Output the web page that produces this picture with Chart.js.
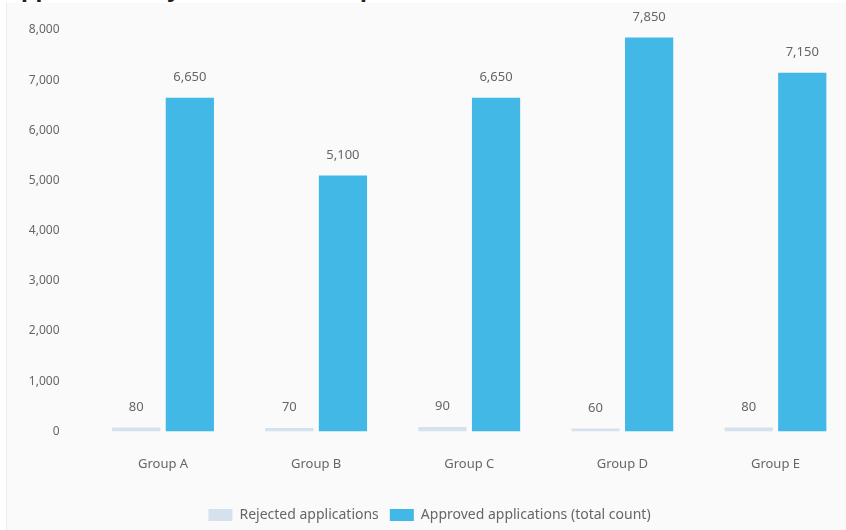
<!DOCTYPE html>
<html>
<head>
<meta charset="utf-8">
<script src="https://cdn.jsdelivr.net/npm/chart.js@4"></script>
<style>
  body { margin: 0; background: #fff; overflow: hidden; width: 846px; height: 530px; position: relative; font-family: "Noto Sans", sans-serif; }
  h2 { position: absolute; left: 5px; top: -28px; margin: 0; font-size: 23px; line-height: 30px; font-weight: bold; color: #222; white-space: nowrap; z-index: 1; }
  #panel { position: absolute; left: 6px; top: 3px; width: 860px; height: 529px; background: #fafafa; border-left: 1px solid #ececec; }
</style>
</head>
<body>
<h2>Applications by Customer Group</h2>
<div id="panel"><canvas id="myChart" width="860" height="529"></canvas></div>
<script>
// DATA
const groups = ["Group A", "Group B", "Group C", "Group D", "Group E"];
const rejected = [80, 70, 90, 60, 80];
const approved = [6650, 5100, 6650, 7850, 7150];
const yTicks = [0, 1000, 2000, 3000, 4000, 5000, 6000, 7000, 8000];
const seriesNames = ["Rejected applications", "Approved applications (total count)"];
const barColors = ["#d6e1ee", "#41b8e6"];

const fmt = v => v.toLocaleString("en-US");

// labels above every bar
const valueLabels = {
  id: "valueLabels",
  afterDatasetsDraw(chart) {
    const ctx = chart.ctx;
    ctx.save();
    ctx.font = '13px "Noto Sans"';
    ctx.fillStyle = "#666";
    ctx.textAlign = "center";
    ctx.textBaseline = "bottom";
    chart.data.datasets.forEach((ds, i) => {
      chart.getDatasetMeta(i).data.forEach((bar, j) => {
        ctx.fillText(fmt(ds.data[j]), bar.x, bar.y - 14);
      });
    });
    ctx.restore();
  }
};

new Chart("myChart", {
  type: "bar",
  data: {
    labels: groups,
    datasets: [
      { label: seriesNames[0], data: rejected, backgroundColor: barColors[0] },
      { label: seriesNames[1], data: approved, backgroundColor: barColors[1] }
    ]
  },
  options: {
    responsive: false,
    animation: false,
    layout: { padding: { top: 27, right: 15, bottom: 0, left: 0 } },
    datasets: { bar: { categoryPercentage: 0.7, barPercentage: 0.9 } },
    scales: {
      x: {
        grid: { display: false, drawTicks: false },
        border: { display: false },
        ticks: { color: "#666", font: { size: 13, family: "Noto Sans" }, padding: 25 }
      },
      y: {
        min: 0,
        max: 8000,
        afterBuildTicks: s => { s.ticks = yTicks.map(v => ({ value: v })); },
        // fixed axis width, and keep the tick padding from pushing the plot down
        afterFit: s => { s.width = 79.5; s.paddingTop = 7; s.paddingBottom = 7; },
        grid: { display: false, drawTicks: false },
        border: { display: false },
        ticks: { color: "#666", font: { size: 12, family: "Noto Sans" }, padding: 27, callback: v => fmt(v) }
      }
    },
    plugins: {
      title: { display: false },
      tooltip: { enabled: false },
      legend: {
        position: "bottom",
        labels: { boxWidth: 24, boxHeight: 12, color: "#666", font: { size: 14, family: "Noto Sans" }, padding: 11 }
      }
    }
  },
  plugins: [valueLabels]
});
</script>
</body>
</html>
